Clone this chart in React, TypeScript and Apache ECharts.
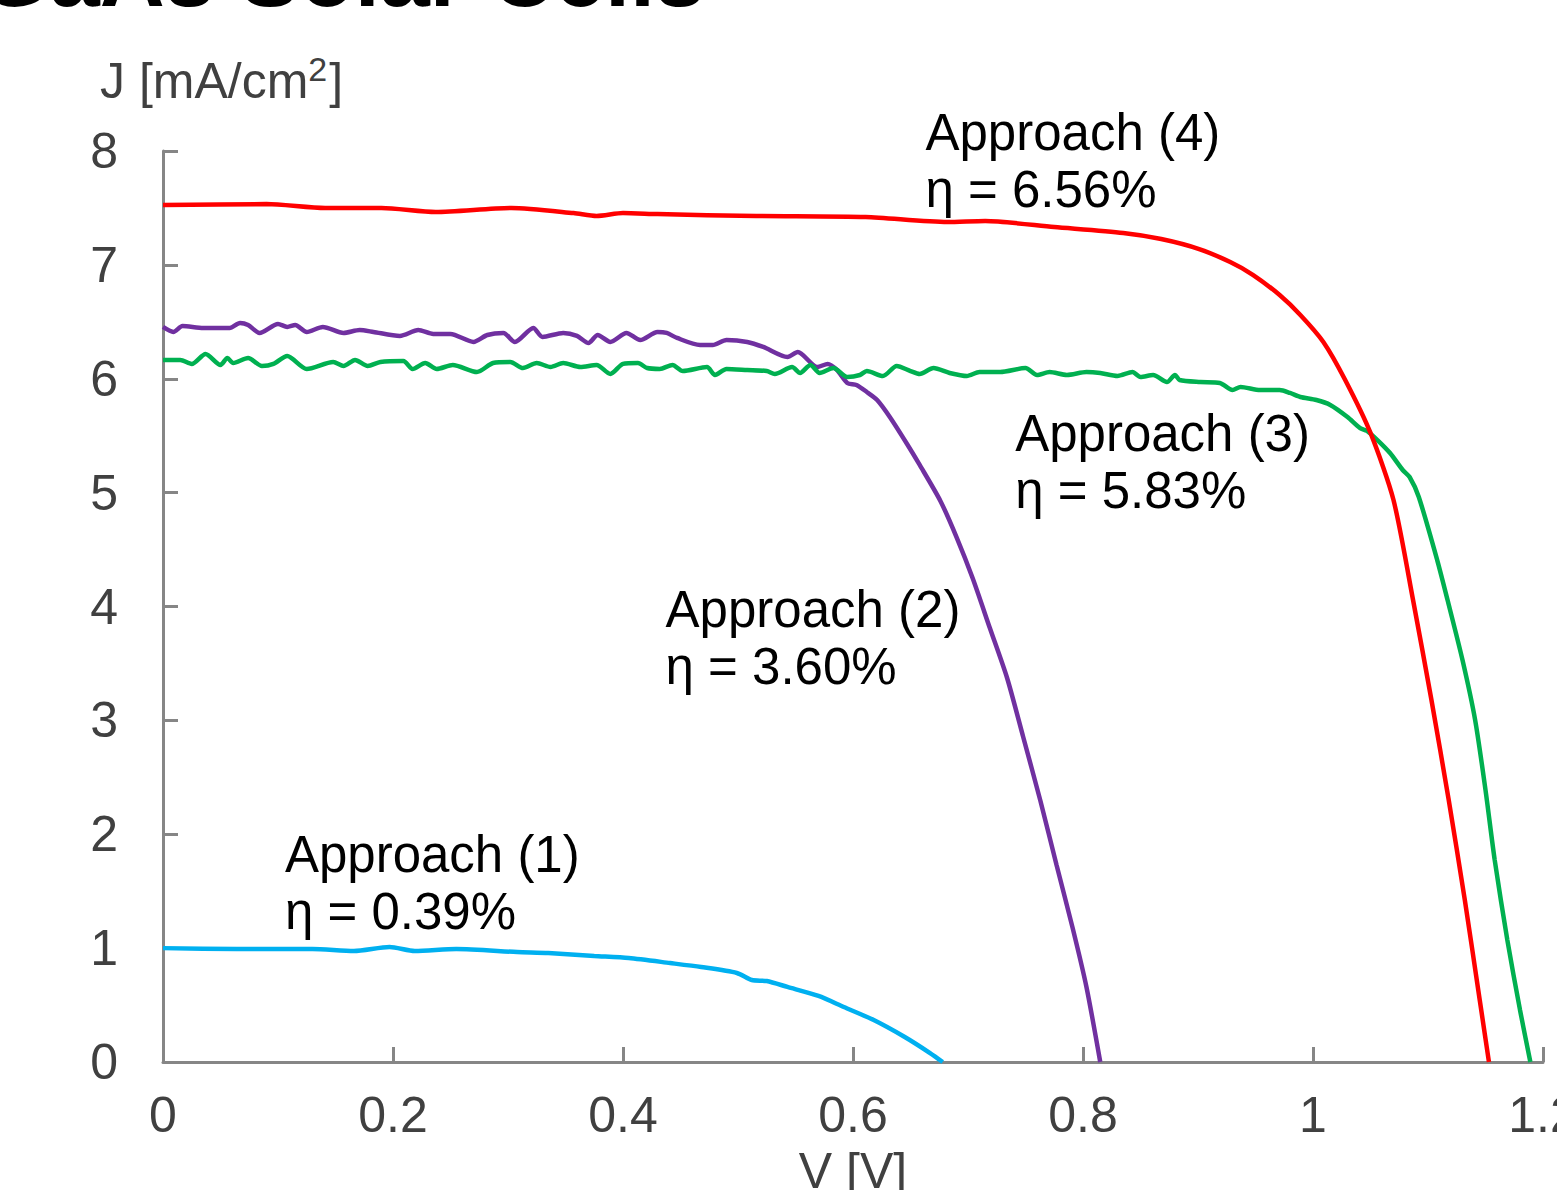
import React, { useEffect, useRef } from "react";
import * as echarts from "echarts";

// V [V], J [mA/cm²]
const approach1V = [0, 0.064, 0.13, 0.166, 0.197, 0.219, 0.255, 0.308, 0.335, 0.375, 0.405, 0.441, 0.468, 0.499, 0.512, 0.525, 0.543, 0.57, 0.592, 0.618, 0.645, 0.667, 0.678];
const approach1J = [1.0, 0.992, 0.992, 0.975, 1.01, 0.975, 0.992, 0.966, 0.957, 0.931, 0.913, 0.869, 0.834, 0.782, 0.72, 0.711, 0.659, 0.58, 0.483, 0.369, 0.22, 0.079, 0];

const approach2V = [0, 0.009, 0.017, 0.035, 0.058, 0.067, 0.074, 0.084, 0.1, 0.108, 0.115, 0.125, 0.139, 0.157, 0.171, 0.183, 0.206, 0.222, 0.235, 0.25, 0.27, 0.282, 0.296, 0.306, 0.322, 0.33, 0.348, 0.36, 0.37, 0.378, 0.389, 0.403, 0.415, 0.43, 0.438, 0.447, 0.467, 0.478, 0.49, 0.508, 0.522, 0.543, 0.552, 0.569, 0.578, 0.586, 0.595, 0.603, 0.612, 0.621, 0.632, 0.647, 0.658, 0.676, 0.69, 0.704, 0.719, 0.734, 0.748, 0.763, 0.777, 0.791, 0.803, 0.815];
const approach2J = [6.455, 6.411, 6.463, 6.446, 6.446, 6.49, 6.472, 6.402, 6.481, 6.455, 6.472, 6.411, 6.455, 6.402, 6.428, 6.411, 6.376, 6.428, 6.393, 6.393, 6.323, 6.384, 6.402, 6.323, 6.446, 6.367, 6.402, 6.376, 6.314, 6.384, 6.323, 6.402, 6.34, 6.411, 6.402, 6.358, 6.296, 6.296, 6.34, 6.323, 6.279, 6.191, 6.235, 6.103, 6.13, 6.077, 5.963, 5.945, 5.884, 5.813, 5.664, 5.427, 5.243, 4.927, 4.61, 4.25, 3.811, 3.372, 2.854, 2.292, 1.73, 1.177, 0.659, 0];

const approach3V = [0, 0.015, 0.025, 0.037, 0.05, 0.056, 0.061, 0.074, 0.086, 0.096, 0.108, 0.125, 0.148, 0.157, 0.167, 0.178, 0.189, 0.209, 0.217, 0.228, 0.238, 0.252, 0.273, 0.287, 0.302, 0.313, 0.325, 0.337, 0.348, 0.363, 0.377, 0.389, 0.4, 0.413, 0.421, 0.432, 0.443, 0.452, 0.473, 0.48, 0.49, 0.508, 0.525, 0.532, 0.547, 0.554, 0.563, 0.571, 0.583, 0.595, 0.606, 0.612, 0.626, 0.638, 0.65, 0.658, 0.67, 0.684, 0.699, 0.71, 0.728, 0.75, 0.76, 0.771, 0.786, 0.803, 0.815, 0.83, 0.843, 0.85, 0.861, 0.873, 0.88, 0.884, 0.902, 0.919, 0.93, 0.937, 0.954, 0.971, 0.98, 0.989, 1.003, 1.015, 1.03, 1.041, 1.047, 1.056, 1.067, 1.078, 1.084, 1.092, 1.108, 1.117, 1.13, 1.141, 1.15, 1.158, 1.169, 1.18, 1.189];
const approach3J = [6.165, 6.165, 6.13, 6.218, 6.121, 6.182, 6.138, 6.182, 6.112, 6.13, 6.2, 6.086, 6.147, 6.112, 6.165, 6.112, 6.147, 6.156, 6.086, 6.138, 6.086, 6.121, 6.059, 6.138, 6.147, 6.094, 6.138, 6.103, 6.138, 6.103, 6.121, 6.042, 6.13, 6.138, 6.094, 6.086, 6.121, 6.068, 6.103, 6.033, 6.086, 6.077, 6.068, 6.042, 6.103, 6.051, 6.121, 6.051, 6.094, 6.015, 6.033, 6.068, 6.024, 6.112, 6.068, 6.042, 6.094, 6.051, 6.024, 6.059, 6.059, 6.094, 6.033, 6.059, 6.033, 6.059, 6.05, 6.024, 6.059, 6.015, 6.033, 5.971, 6.033, 5.989, 5.971, 5.963, 5.901, 5.928, 5.901, 5.901, 5.875, 5.84, 5.813, 5.77, 5.664, 5.567, 5.541, 5.462, 5.348, 5.199, 5.137, 4.962, 4.408, 4.057, 3.53, 3.003, 2.389, 1.774, 1.071, 0.457, 0];

const approach4V = [0, 0.09, 0.141, 0.19, 0.237, 0.303, 0.357, 0.377, 0.4, 0.43, 0.516, 0.611, 0.682, 0.715, 0.775, 0.835, 0.868, 0.901, 0.928, 0.948, 0.971, 0.989, 1.009, 1.028, 1.05, 1.07, 1.087, 1.103, 1.118, 1.132, 1.145, 1.153];
const approach4J = [7.526, 7.534, 7.499, 7.499, 7.464, 7.499, 7.455, 7.429, 7.455, 7.446, 7.429, 7.42, 7.376, 7.385, 7.332, 7.28, 7.227, 7.139, 7.025, 6.911, 6.735, 6.56, 6.323, 5.989, 5.524, 4.935, 4.057, 3.179, 2.301, 1.423, 0.544, 0];

const seriesNames = ["Approach (1)", "Approach (2)", "Approach (3)", "Approach (4)"];
const efficiencies = ["η = 0.39%", "η = 3.60%", "η = 5.83%", "η = 6.56%"];
const seriesColors = ["#00B0F0", "#7030A0", "#00B050", "#FF0000"];

const xTicks = { min: 0, max: 1.2, interval: 0.2 };
const yTicks = { min: 0, max: 8, interval: 1 };

const FONT = "'Liberation Sans', Arial, sans-serif";

function zip(v: number[], j: number[]) {
  return v.map((x, i) => [x, j[i]]);
}

export default function App() {
  const ref = useRef<HTMLDivElement>(null);
  useEffect(() => {
    if (!ref.current) return;
    const chart = echarts.init(ref.current, null, { renderer: "svg" });
    const allV = [approach1V, approach2V, approach3V, approach4V];
    const allJ = [approach1J, approach2J, approach3J, approach4J];
    // annotation anchors (top-left of text block) in data units
    const annotAnchors = [
      [0.106, 2.07],
      [0.437, 4.22],
      [0.741, 5.77],
      [0.663, 8.41],
    ];
    chart.setOption({
      animation: false,
      backgroundColor: "#ffffff",
      grid: {
        left: 163,
        right: 14,
        top: 151,
        bottom: 128,
        containLabel: false,
        outerBoundsMode: "none",
      },
      xAxis: {
        type: "value",
        min: xTicks.min,
        max: xTicks.max,
        interval: xTicks.interval,
        name: "V [V]",
        nameLocation: "middle",
        nameGap: 84,
        nameTextStyle: { fontFamily: FONT, fontSize: 50, color: "#404040" },
        axisLine: { lineStyle: { color: "#868686", width: 3 } },
        axisTick: { inside: true, length: 15, lineStyle: { color: "#868686", width: 3 } },
        axisLabel: { fontFamily: FONT, fontSize: 50, color: "#404040", margin: 28 },
        splitLine: { show: false },
      },
      yAxis: {
        type: "value",
        min: yTicks.min,
        max: yTicks.max,
        interval: yTicks.interval,
        axisLine: { show: true, lineStyle: { color: "#868686", width: 3 } },
        axisTick: { show: true, inside: true, length: 15, lineStyle: { color: "#868686", width: 3 } },
        axisLabel: { fontFamily: FONT, fontSize: 50, color: "#404040", margin: 45 },
        splitLine: { show: false },
      },
      series: seriesNames.map((name, i) => ({
        name,
        type: "line",
        data: zip(allV[i], allJ[i]),
        showSymbol: false,
        smooth: 0.25,
        lineStyle: { color: seriesColors[i], width: 4.5 },
        itemStyle: { color: seriesColors[i] },
        z: 2 + i,
      })),
    });
    const annots = seriesNames.map((name, i) => {
      const p = chart.convertToPixel({ gridIndex: 0 }, annotAnchors[i]) as number[];
      return {
        type: "text",
        x: p[0],
        y: p[1],
        style: {
          text: name + "\n" + efficiencies[i],
          fontFamily: FONT,
          fontSize: 51,
          lineHeight: 57,
          fill: "#000000",
          textAlign: "left",
          textVerticalAlign: "top",
        },
        z: 10,
      };
    });
    chart.setOption({
      graphic: [
        {
          type: "text",
          x: 705,
          y: 20,
          style: {
            text: "GaAs Solar Cells",
            fontFamily: FONT,
            fontWeight: "bold",
            fontSize: 90,
            fill: "#000000",
            textAlign: "right",
            textVerticalAlign: "bottom",
          },
        },
        {
          type: "text",
          x: 100,
          y: 52,
          style: {
            text: "{a|J [mA/cm}{s|2}{a|]}",
            rich: {
              a: { fontFamily: FONT, fontSize: 50, lineHeight: 58, fill: "#404040", color: "#404040" },
              s: {
                fontFamily: FONT,
                fontSize: 34,
                lineHeight: 34,
                fill: "#404040",
                color: "#404040",
                verticalAlign: "top",
                padding: [0, 2, 0, 0],
              },
            },
            textAlign: "left",
            textVerticalAlign: "top",
          },
        },
        ...annots,
      ],
    });
    return () => chart.dispose();
  }, []);
  return (
    <div
      ref={ref}
      style={{ position: "absolute", left: 0, top: 0, width: 1557, height: 1190 }}
    />
  );
}
